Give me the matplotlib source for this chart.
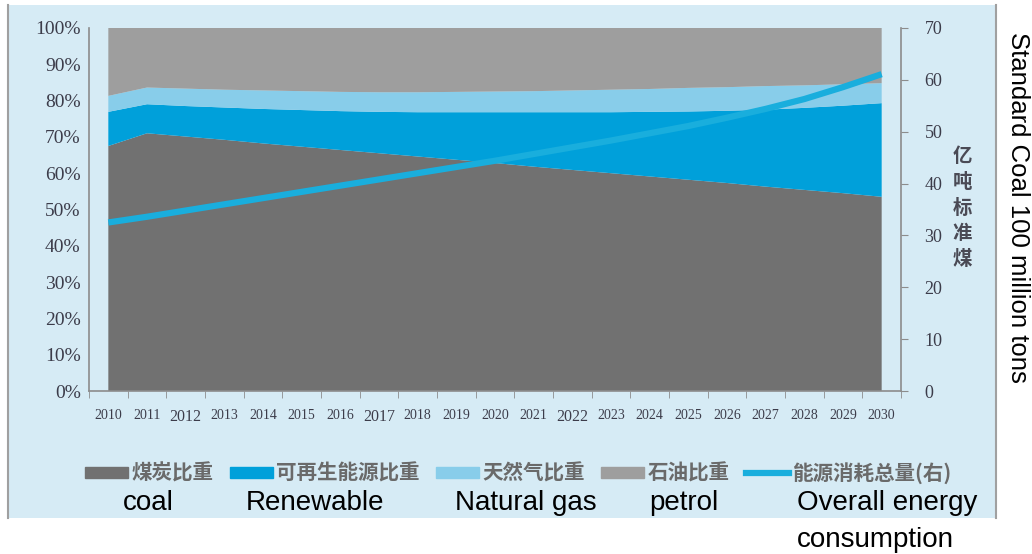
"""China energy mix (stacked shares) with total energy consumption on a second axis."""

import matplotlib
matplotlib.use("Agg")
import matplotlib.pyplot as plt
import numpy as np
from matplotlib.lines import Line2D
from matplotlib.patches import Patch, Rectangle

# ---- data ----
years = [str(y) for y in range(2010, 2031)]

# shares of primary energy, percent (coal at the bottom, petrol on top)
coal_share = [67.5, 71.0, 70.1, 69.2, 68.2, 67.3, 66.4, 65.5, 64.6, 63.7, 62.8,
              61.8, 60.9, 60.0, 59.1, 58.2, 57.3, 56.3, 55.4, 54.5, 53.5]
renewable_share = [9.4, 8.0, 8.4, 8.9, 9.5, 10.1, 10.7, 11.4, 12.2, 13.1, 14.0,
                   15.0, 15.9, 16.8, 17.8, 18.8, 19.9, 21.2, 22.6, 24.1, 25.8]
gas_share = [4.4, 4.6, 4.8, 4.9, 5.1, 5.2, 5.3, 5.4, 5.5, 5.6, 5.7,
             5.8, 6.0, 6.2, 6.3, 6.5, 6.5, 6.5, 6.2, 5.9, 5.5]
petrol_share = [18.7, 16.4, 16.7, 17.0, 17.2, 17.4, 17.6, 17.7, 17.7, 17.6, 17.5,
                17.4, 17.2, 17.0, 16.8, 16.5, 16.3, 16.0, 15.8, 15.5, 15.2]

# total energy consumption, 100 million tons standard coal (right axis)
energy_total = [32.5, 33.6, 34.8, 36.0, 37.2, 38.4, 39.6, 40.8, 42.0, 43.2, 44.4,
                45.7, 47.0, 48.3, 49.7, 51.1, 52.7, 54.4, 56.3, 58.6, 61.1]

pct_ticks = list(range(0, 101, 10))
energy_ticks = list(range(0, 71, 10))
big_years = {"2012", "2017", "2022"}

legend_cn = ["煤炭比重", "可再生能源比重", "天然气比重", "石油比重", "能源消耗总量(右)"]
legend_en = ["coal", "Renewable", "Natural gas", "petrol"]

# ---- style ----
C_COAL = "#717171"
C_RENEW = "#00a0da"
C_GAS = "#88cdea"
C_PETROL = "#9e9e9e"
C_LINE = "#19aedd"
C_PANEL = "#d6ebf5"
C_SPINE = "#8c8c8c"
C_TICK = "#3c3c4a"
SERIF = ["Liberation Serif", "DejaVu Serif"]
CJK = ["Noto Sans CJK SC", "DejaVu Sans"]
SANS = ["Liberation Sans", "DejaVu Sans"]

W, H = 1032, 554
fig = plt.figure(figsize=(W / 100, H / 100), dpi=100)
fig.patch.set_facecolor("white")


def fx(px):
    return px / W


def fy(py):
    return 1 - py / H


# light blue panel behind the chart
fig.patches.append(Rectangle((fx(8), fy(518)), fx(996 - 8), (518 - 5) / H,
                             transform=fig.transFigure, facecolor=C_PANEL,
                             edgecolor="none", zorder=-10))
for xb in (8, 996):
    fig.add_artist(Line2D([fx(xb), fx(xb)], [fy(518), fy(5)], color="#a0a0a0",
                          lw=1.5, zorder=-9))

ax = fig.add_axes([fx(89), fy(391), fx(901 - 89), (391 - 28) / H])
ax.patch.set_alpha(0)
x = np.arange(len(years))

ax.stackplot(x, coal_share, renewable_share, gas_share, petrol_share,
             colors=[C_COAL, C_RENEW, C_GAS, C_PETROL], linewidth=0)
ax.set_xlim(-0.5, len(years) - 0.5)
ax.set_ylim(0, 100)
ax.set_yticks(pct_ticks)
ax.set_yticklabels([f"{v}%" for v in pct_ticks], family=SERIF, fontsize=14, color=C_TICK)
ax.tick_params(axis="y", length=0, pad=6)

ax.set_xticks(x)
ax.set_xticklabels(years, family=SERIF, color=C_TICK)
for lab in ax.get_xticklabels():
    lab.set_fontsize(11.5 if lab.get_text() in big_years else 10)
ax.set_xticks(np.arange(len(years) + 1) - 0.5, minor=True)
ax.tick_params(axis="x", which="major", length=0, pad=13)
ax.tick_params(axis="x", which="minor", length=5, color=C_SPINE, direction="out")

for side in ("top", "right"):
    ax.spines[side].set_visible(False)
for side in ("left", "bottom"):
    ax.spines[side].set_color(C_SPINE)
    ax.spines[side].set_linewidth(1.2)

ax2 = ax.twinx()
ax2.plot(x, energy_total, color=C_LINE, lw=4.5, solid_capstyle="butt")
ax2.set_ylim(0, 70)
ax2.set_yticks(energy_ticks)
ax2.set_yticklabels([str(v) for v in energy_ticks], family=SERIF, fontsize=13, color=C_TICK)
ax2.tick_params(axis="y", length=5, color=C_SPINE, pad=12)
for side in ("top", "left", "bottom"):
    ax2.spines[side].set_visible(False)
ax2.spines["right"].set_color(C_SPINE)
ax2.spines["right"].set_linewidth(1.2)

# vertical Chinese unit label
fig.text(fx(962), fy(208), "亿\n吨\n标\n准\n煤", family=CJK, fontsize=14,
         color="#4a4a55", ha="center", va="center", linespacing=1.45, weight="bold")
fig.text(fx(1018), fy(207), "Standard Coal 100 million tons", family=SANS,
         fontsize=18.5, rotation=-90, ha="center", va="center", color="black")

# legend
handles = [Patch(color=C_COAL), Patch(color=C_RENEW), Patch(color=C_GAS),
           Patch(color=C_PETROL), Line2D([], [], color=C_LINE, lw=4.5)]
fig.legend(handles, legend_cn, ncol=5, loc="center left",
           bbox_to_anchor=(fx(85), fy(473)), frameon=False,
           prop={"family": CJK, "size": 14.8, "weight": "bold"}, labelcolor="#6a6a6a",
           handlelength=2.1, handleheight=0.45, handletextpad=0.15,
           columnspacing=0.8, borderpad=0, borderaxespad=0)

# English captions under the legend
en_x = [148, 315, 526, 684]
for lab, xc in zip(legend_en, en_x):
    fig.text(fx(xc), fy(503), lab, family=SANS, fontsize=20, ha="center", va="center")
fig.text(fx(797), fy(503), "Overall energy", family=SANS, fontsize=20, ha="left", va="center")
fig.text(fx(797), fy(540), "consumption", family=SANS, fontsize=20, ha="left", va="center")

fig.savefig("out.png", dpi=100)
